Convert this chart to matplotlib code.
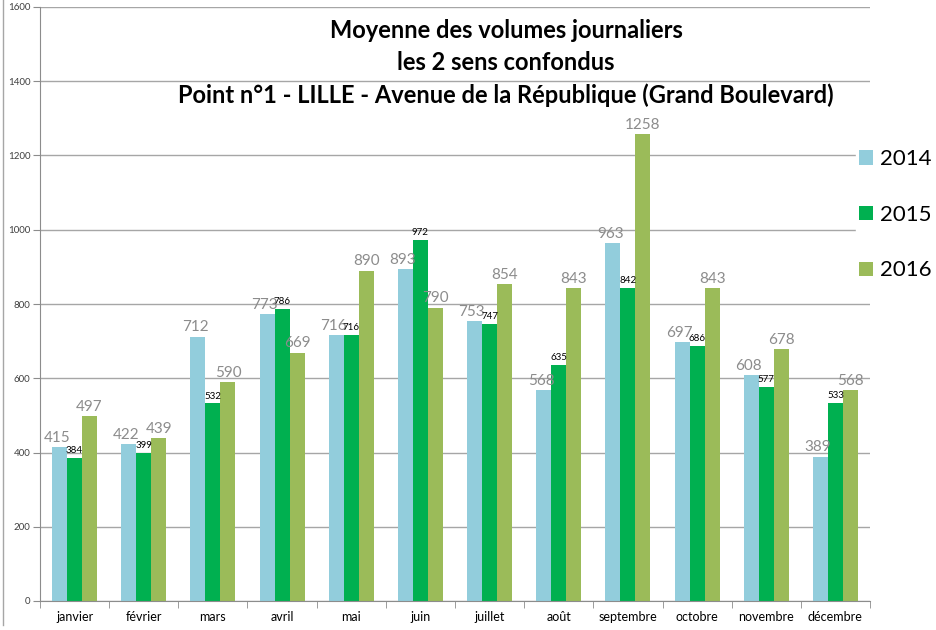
import matplotlib
matplotlib.use('Agg')
import matplotlib.pyplot as plt
from matplotlib.lines import Line2D
import numpy as np

months = ['janvier', 'février', 'mars', 'avril', 'mai', 'juin', 'juillet',
          'août', 'septembre', 'octobre', 'novembre', 'décembre']
v2014 = [415, 422, 712, 773, 716, 893, 753, 568, 963, 697, 608, 389]
v2015 = [384, 399, 532, 786, 716, 972, 747, 635, 842, 686, 577, 533]
v2016 = [497, 439, 590, 669, 890, 790, 854, 843, 1258, 843, 678, 568]
years = ['2014', '2015', '2016']
colors = ['#92CDDC', '#00B050', '#9BBB59']

plt.rcParams['font.family'] = ['Lato', 'DejaVu Sans']

fig = plt.figure(figsize=(9.36, 6.3), dpi=100)
ax = fig.add_axes([40 / 936, 1 - 601 / 630, 830 / 936, 594 / 630])

x = np.arange(len(months))
w = 0.217
series = [v2014, v2015, v2016]
bars = []
for i, (vals, c, lab) in enumerate(zip(series, colors, years)):
    b = ax.bar(x + (i - 1) * w, vals, w, color=c, label=lab, zorder=2)
    bars.append(b)

for i, (vals, b) in enumerate(zip(series, bars)):
    for rect, v in zip(b, vals):
        cx = rect.get_x() + rect.get_width() / 2
        if i == 1:
            ax.text(cx, v + 8, str(v), ha='center', va='bottom', fontsize=7,
                    color='black', zorder=3)
        else:
            dx = -0.04 if i == 0 else 0.0
            ax.text(cx + dx, v + 6, str(v), ha='center', va='bottom', fontsize=11,
                    color='#8c8c8c', zorder=3)

ax.set_xlim(-0.5, 11.5)
ax.set_ylim(0, 1600)
ax.set_yticks(range(0, 1601, 200))
ax.yaxis.grid(True, color='#a6a6a6', lw=1, zorder=0)
ax.set_xticks(x)
ax.set_xticklabels(months, fontsize=9)
ax.set_xticks(np.arange(-0.5, 12, 1), minor=True)
ax.tick_params(axis='x', which='major', length=0, pad=7)
ax.tick_params(axis='x', which='minor', length=5, color='#8c8c8c', direction='out')
ax.tick_params(axis='y', labelsize=7, labelcolor='#404040', length=5,
               color='#8c8c8c', pad=2)
for s in ['top', 'right']:
    ax.spines[s].set_visible(False)
for s in ['left', 'bottom']:
    ax.spines[s].set_color('#8c8c8c')

title_lines = ['Moyenne des volumes journaliers', 'les 2 sens confondus',
               'Point n°1 - LILLE - Avenue de la République (Grand Boulevard)']
for line, yc in zip(title_lines, [30, 63, 95]):
    fig.text(506 / 936, 1 - yc / 630, line, ha='center', va='center',
             fontsize=17, fontweight='bold')

leg = fig.legend(loc='upper left', bbox_to_anchor=(856 / 936, 1 - 146 / 630),
                 fontsize=16, frameon=True, edgecolor='white', facecolor='white',
                 framealpha=1, handlelength=0.6, handleheight=0.6,
                 handletextpad=0.35, labelspacing=1.6, borderpad=0.15,
                 borderaxespad=0)

fig.add_artist(Line2D([3 / 936, 3 / 936], [1 - 625 / 630, 1], color='#a6a6a6',
                      lw=1, transform=fig.transFigure))

fig.savefig('out.png', dpi=100)
